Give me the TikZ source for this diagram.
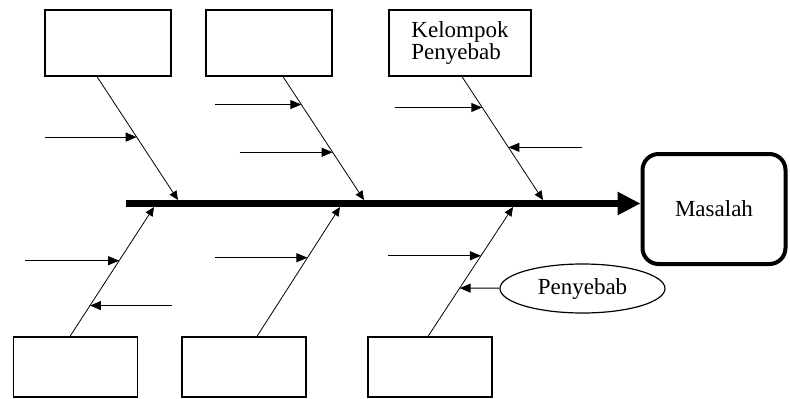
\documentclass[tikz,border=0pt]{standalone}
\usepackage{fontspec}
\setmainfont{Liberation Serif}
\usetikzlibrary{arrows.meta,calc,shapes.geometric}

\begin{document}
\begin{tikzpicture}[x=1pt,y=-1pt,
    box/.style={draw,line width=1.3pt,minimum width=126pt,minimum height=66pt,inner sep=0pt},
    lowbox/.style={box,minimum width=124pt,minimum height=60pt},
    bone/.style={line width=0.8pt,-{Triangle[length=9pt,width=8pt]}},
    cause/.style={line width=1pt,-{Triangle[length=11pt,width=9pt]}},
    font=\fontsize{23}{22}\selectfont]
    \useasboundingbox (0,0) rectangle (790,399);
    \node[box] (k1) at (108,43) {};
    \node[box] (k2) at (269,43) {};
    \node[box,minimum width=142pt,align=left] (k3) at (460,43) {Kelompok\\Penyebab};
    \node[lowbox] (k4) at (75.5,367) {};
    \node[lowbox] (k5) at (244,367) {};
    \node[lowbox] (k6) at (430,367) {};
    \node[draw,line width=4pt,rounded corners=16pt,minimum width=143pt,minimum height=110pt] (masalah) at (714,209) {Masalah};
    \node[draw,ellipse,line width=1.2pt,minimum width=165pt,minimum height=49pt,inner sep=0pt] (penyebab) at (582.5,288.5) {Penyebab};
    \coordinate (ekor) at (126,203.5);
    \draw[line width=7pt,-{Triangle[length=23pt,width=22pt]}] (ekor) -- (masalah.west |- ekor);
    \coordinate (t1) at (178,200);
    \coordinate (t2) at (364,200);
    \coordinate (t3) at (543,200);
    \coordinate (b4) at (154,207);
    \coordinate (b5) at (340,207);
    \coordinate (b6) at (513,207);
    \draw[bone] ($(k1.south)+(-11,0)$) -- (t1) coordinate[pos=0.49] (p1);
    \draw[bone] ($(k2.south)+(14,0)$) -- (t2) coordinate[pos=0.226] (p2) coordinate[pos=0.613] (q2);
    \draw[bone] ($(k3.south)+(2,0)$) -- (t3) coordinate[pos=0.25] (p3) coordinate[pos=0.573] (q3);
    \draw[bone] ($(k4.north)+(-5.5,0)$) -- (b4) coordinate[pos=0.585] (p4) coordinate[pos=0.238] (q4);
    \draw[bone] ($(k5.north)+(13,0)$) -- (b5) coordinate[pos=0.608] (p5);
    \draw[bone] ($(k6.north)+(-2,0)$) -- (b6) coordinate[pos=0.623] (p6) coordinate[pos=0.373] (q6);
    \draw[cause] ($(p1)+(-92,0)$) -- (p1);
    \draw[cause] ($(p2)+(-86,0)$) -- (p2);
    \draw[cause] ($(q2)+(-93,0)$) -- (q2);
    \draw[cause] ($(p3)+(-87,0)$) -- (p3);
    \draw[cause] ($(q3)+(74,0)$) -- (q3);
    \draw[cause] ($(p4)+(-94,0)$) -- (p4);
    \draw[cause] ($(q4)+(82,0)$) -- (q4);
    \draw[cause] ($(p5)+(-92,0)$) -- (p5);
    \draw[cause] ($(p6)+(-93,0)$) -- (p6);
    \draw[cause] (penyebab) -- (q6);
\end{tikzpicture}
\end{document}
